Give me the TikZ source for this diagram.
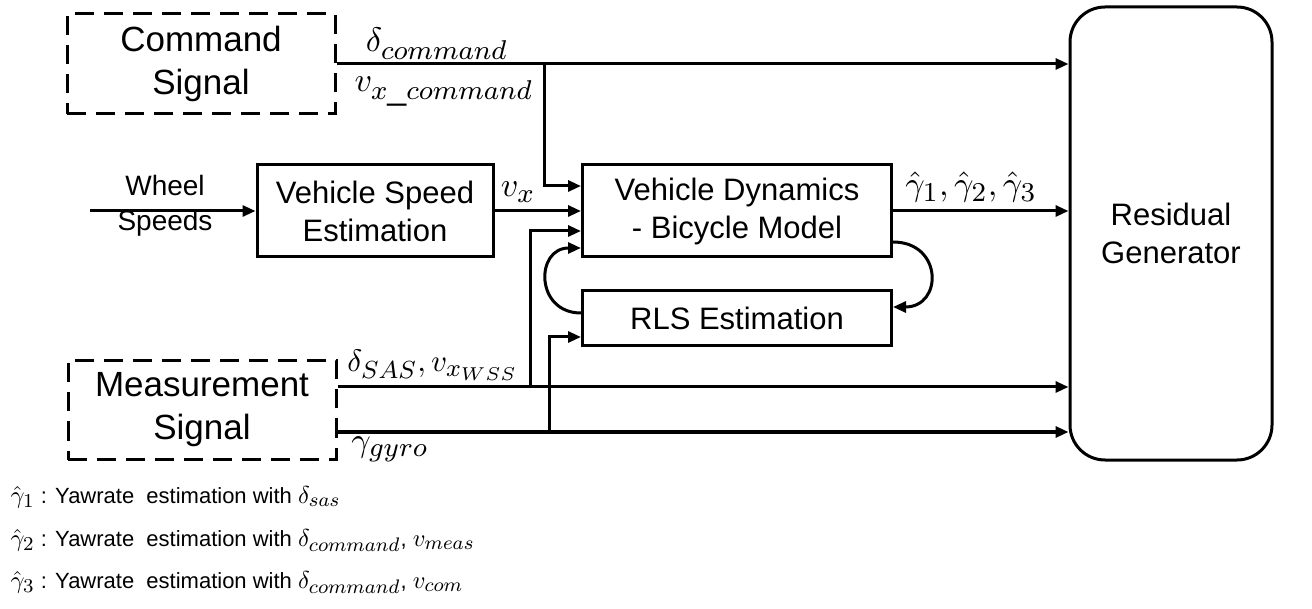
\documentclass[tikz,border=0pt]{standalone}
\usepackage{fontspec}
\setmainfont{Liberation Sans}
\usetikzlibrary{arrows.meta,calc}
\DeclareMathSizes{10}{10}{8}{6}
\newcommand{\mlab}[2][3.4]{\scalebox{#1}{\normalsize$#2$}}
\newcommand{\nlab}[1]{\scalebox{2.45}{\normalsize$#1$}}
\begin{document}
\begin{tikzpicture}[x=1pt,y=-1pt,
  every path/.style={line width=3pt},
  blk/.style={draw,line width=3pt,align=center,inner sep=0pt,font=\fontsize{31}{38}\selectfont},
  sig/.style={draw,line width=3pt,dash pattern=on 19pt off 10pt,align=center,inner sep=0pt,font=\fontsize{35}{43}\selectfont},
  arr/.style={-{Triangle[length=13pt,width=11pt]},line width=3pt},
  lbl/.style={inner sep=0pt,anchor=base},
  note/.style={inner sep=0pt,anchor=base west,font=\fontsize{22}{26}\selectfont}]
\useasboundingbox (0,0) rectangle (1312,609);
% blocks
\node[sig,minimum width=268pt,minimum height=100pt] (cmd) at (201,64) {Command\\Signal};
\node[sig,minimum width=268pt,minimum height=99pt] (meas) at (202,410) {Measurement\\Signal};
\node[blk,minimum width=236pt,minimum height=92pt] (vse) at (375,211) {Vehicle Speed\\Estimation};
\node[blk,minimum width=309pt,minimum height=92pt] (vd) at (737,211) {Vehicle Dynamics\\- Bicycle Model};
\node[blk,minimum width=309pt,minimum height=55pt] (rls) at (737,318) {RLS Estimation};
\node[blk,rounded corners=35pt,minimum width=202pt,minimum height=453pt] (res) at (1171,233.5) {Residual\\Generator};
% inputs
\coordinate (ws) at (90,211);
\node[inner sep=0pt,align=center,font=\fontsize{28}{35}\selectfont] (wsl) at (165,206) {Wheel\\Speeds};
\draw[arr] (ws) -- (vse.west);
% command lines
\draw[arr] (cmd.east) -- (cmd.east -| res.west);
\coordinate (b1) at (544,64);
\draw[arr] (b1) |- ([yshift=25pt]vd.west);
\node[lbl] (ldc) at (437,52) {\mlab{\delta_{command}}};
\node[lbl] (lvc) at (444,92) {\mlab{v_{x\_command}}};
% vx
\draw[arr] (vse.east) -- (vd.west);
\node[lbl] (lvx) at (518,197) {\mlab{v_x}};
% measurement lines
\coordinate (m1) at ([yshift=23pt]meas.east);
\coordinate (m2) at ([yshift=-22pt]meas.east);
\draw[arr] (m1) -- (m1 -| res.west);
\draw[arr] (m2) -- (m2 -| res.west);
\coordinate (j1) at (530,387);
\coordinate (j2) at (549,432);
\draw[arr] (j1) |- ([yshift=-20pt]vd.west);
\draw[arr] (j2) |- ([yshift=-19pt]rls.west);
\node[lbl] (lsas) at (433,372) {\mlab[3.1]{\delta_{SAS}, v_{x_{WSS}}}};
\node[lbl] (lgy) at (390,451) {\mlab{\gamma_{gyro}}};
% loops
\draw[arr] ([yshift=5pt]rls.west) .. controls +(-46,0) and +(-46,0) .. ([yshift=-37pt]vd.west);
\draw[arr] ([yshift=-31pt]vd.east) .. controls +(50,0) and +(50,0) .. ([yshift=11pt]rls.east);
% output
\draw[arr] (vd.east) -- (vd.east -| res.west);
\node[lbl] (lgh) at (971,196) {\mlab{\hat{\gamma}_1, \hat{\gamma}_2, \hat{\gamma}_3}};
% notes
\node[note] (n1) at (9,503) {\nlab{\hat{\gamma}_1} : Yawrate\ \ estimation with \nlab{\delta_{sas}}};
\node[note] (n2) at (9,546) {\nlab{\hat{\gamma}_2} : Yawrate\ \ estimation with \nlab{\delta_{command}}, \nlab{v_{meas}}};
\node[note] (n3) at (9,588) {\nlab{\hat{\gamma}_3} : Yawrate\ \ estimation with \nlab{\delta_{command}}, \nlab{v_{com}}};
\end{tikzpicture}
\end{document}
